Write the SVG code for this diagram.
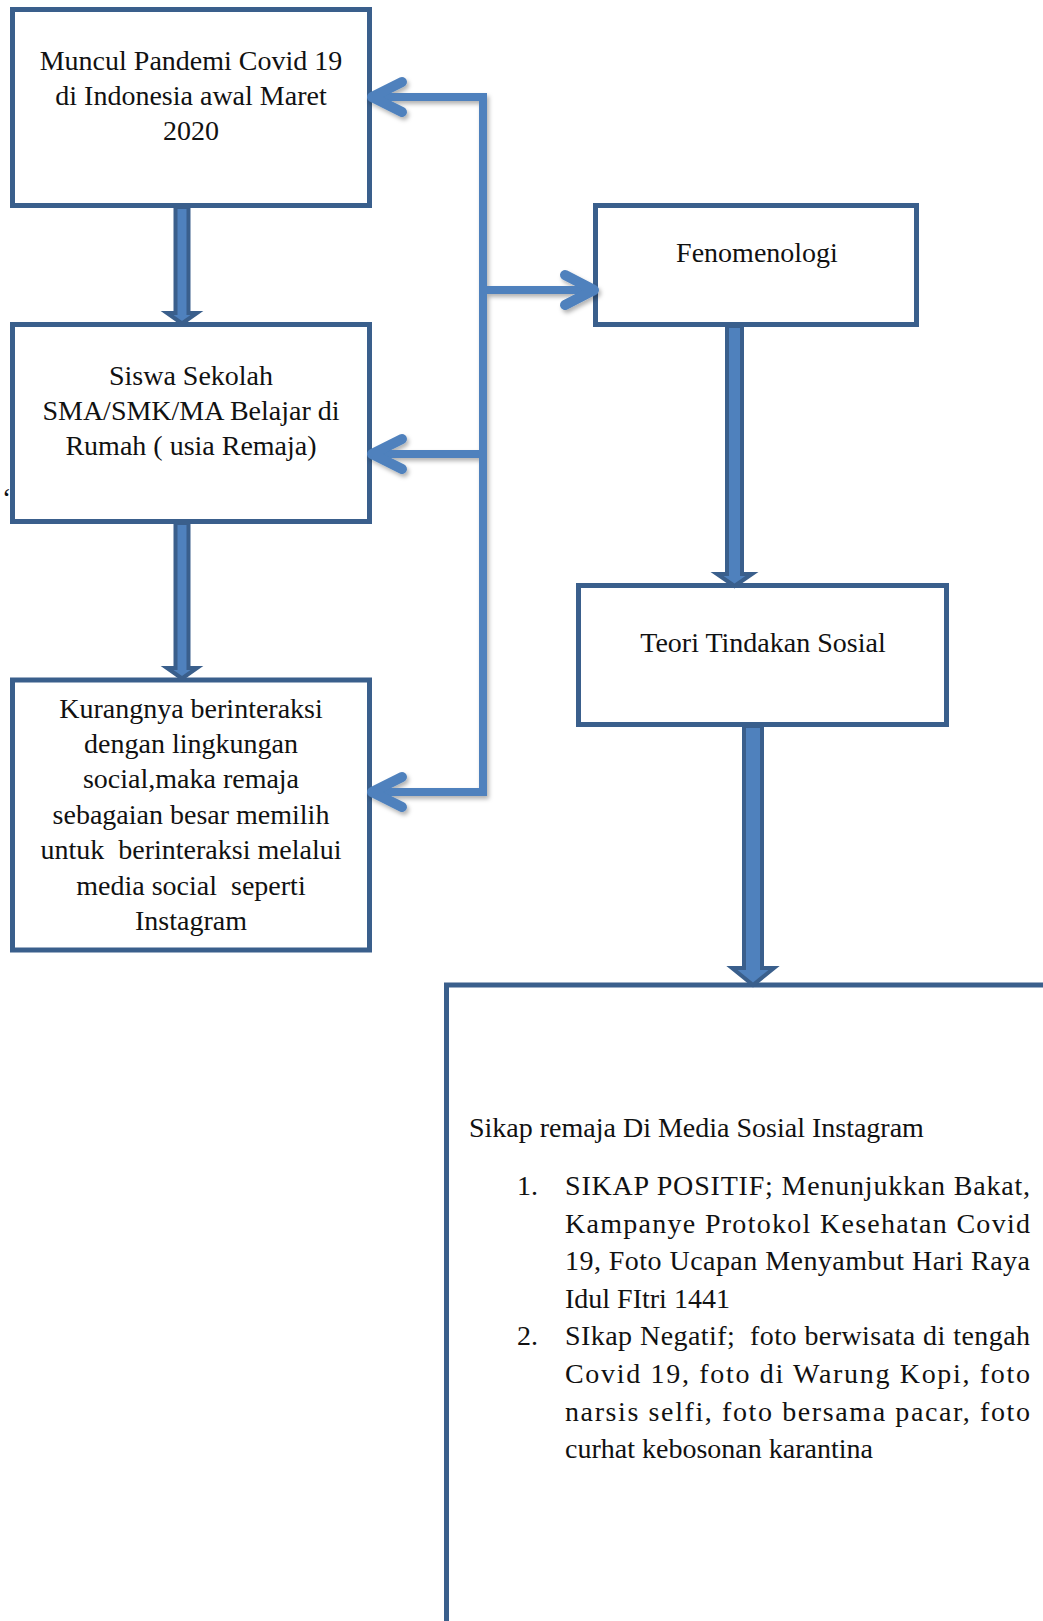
<svg xmlns="http://www.w3.org/2000/svg" width="1043" height="1621" viewBox="0 0 1043 1621">
<defs>
<style>
.box{fill:#ffffff;stroke:#3A5F8C;stroke-width:5}
.t{font-family:"Liberation Serif","Times New Roman",serif;font-size:28px;fill:#111111}
.c{text-anchor:middle}
.line{fill:none;stroke:#4F81BD;stroke-width:8;stroke-linejoin:miter}
.chev{fill:none;stroke:#4F81BD;stroke-width:10;stroke-linecap:round;stroke-linejoin:round}
.blk{fill:#4F81BD;stroke:#3A5F8C;stroke-width:4;stroke-linejoin:miter}
</style>
<filter id="sh" x="-10%" y="-10%" width="130%" height="130%">
<feDropShadow dx="2" dy="3" stdDeviation="2" flood-color="#000000" flood-opacity="0.3"/>
</filter>
</defs>
<rect width="1043" height="1621" fill="#ffffff"/>

<g id="n1">
<rect class="box" x="12.5" y="9.5" width="357" height="196"/>
<text class="t c" x="191" y="70">Muncul Pandemi Covid 19</text>
<text class="t c" x="191" y="105">di Indonesia awal Maret</text>
<text class="t c" x="191" y="140">2020</text>
</g>

<g id="n2">
<rect class="box" x="12.5" y="324.5" width="357" height="197"/>
<text class="t c" x="191" y="385">Siswa Sekolah</text>
<text class="t c" x="191" y="420">SMA/SMK/MA Belajar di</text>
<text class="t c" x="191" y="455">Rumah ( usia Remaja)</text>
</g>

<g id="n3">
<rect class="box" x="12.5" y="680" width="357" height="270"/>
<text class="t c" x="191" y="718">Kurangnya berinteraksi</text>
<text class="t c" x="191" y="753">dengan lingkungan</text>
<text class="t c" x="191" y="788">social,maka remaja</text>
<text class="t c" x="191" y="824">sebagaian besar memilih</text>
<text class="t c" x="191" y="859" xml:space="preserve">untuk  berinteraksi melalui</text>
<text class="t c" x="191" y="895" xml:space="preserve">media social  seperti</text>
<text class="t c" x="191" y="930">Instagram</text>
</g>

<g id="n4">
<rect class="box" x="595.5" y="205.5" width="321" height="119"/>
<text class="t c" x="757" y="262">Fenomenologi</text>
</g>

<g id="n5">
<rect class="box" x="578.5" y="585.5" width="368" height="139"/>
<text class="t c" x="763" y="652">Teori Tindakan Sosial</text>
</g>

<g id="n6">
<rect class="box" x="446.5" y="985" width="650" height="700"/>
<text class="t" x="469" y="1137">Sikap remaja Di Media Sosial Instagram</text>
<text class="t" x="517" y="1195">1.</text>
<text class="t" x="565" y="1195" textLength="465" lengthAdjust="spacing">SIKAP POSITIF; Menunjukkan Bakat,</text>
<text class="t" x="565" y="1233" textLength="465" lengthAdjust="spacing">Kampanye Protokol Kesehatan Covid</text>
<text class="t" x="565" y="1270" textLength="465" lengthAdjust="spacing">19, Foto Ucapan Menyambut Hari Raya</text>
<text class="t" x="565" y="1308">Idul FItri 1441</text>
<text class="t" x="517" y="1345">2.</text>
<text class="t" x="565" y="1345" textLength="465" lengthAdjust="spacing" xml:space="preserve">SIkap Negatif;  foto berwisata di tengah</text>
<text class="t" x="565" y="1383" textLength="465" lengthAdjust="spacing">Covid 19, foto di Warung Kopi, foto</text>
<text class="t" x="565" y="1421" textLength="465" lengthAdjust="spacing">narsis selfi, foto bersama pacar, foto</text>
<text class="t" x="565" y="1458">curhat kebosonan karantina</text>
</g>

<text class="t" x="2" y="507">‘</text>

<g id="connectors">
<g filter="url(#sh)">
<path class="line" d="M374 97 H483 V792 H374"/>
<path class="line" d="M374 454 H483"/>
<path class="line" d="M483 290 H592"/>
<path class="chev" d="M402 82 L372 97 L402 112"/>
<path class="chev" d="M402 439 L372 454 L402 469"/>
<path class="chev" d="M402 777 L372 792 L402 807"/>
<path class="chev" d="M565 275 L594 290 L565 305"/>
</g>
<polygon class="blk" points="175.5,207 188.5,207 188.5,313 197,313 182,323.5 167,313 175.5,313"/>
<polygon class="blk" points="175.5,523 188.5,523 188.5,668 197,668 182,678.5 167,668 175.5,668"/>
<polygon class="blk" points="727,326 742,326 742,574 752,574 734.5,586 717,574 727,574"/>
<polygon class="blk" points="744,726 762,726 762,968 774,968 753,985 732,968 744,968"/>
</g>
</svg>
